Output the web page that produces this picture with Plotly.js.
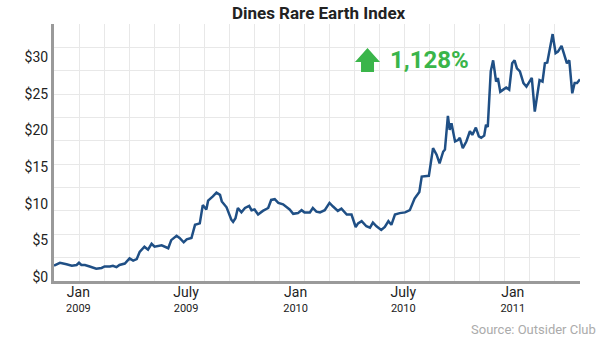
<!DOCTYPE html>
<html>
<head>
<meta charset="utf-8">
<script src="https://cdn.plot.ly/plotly-3.0.1.min.js"></script>
<style>html,body{margin:0;padding:0;background:#fff;}#chart{width:600px;height:338px;}</style>
</head>
<body>
<div id="chart"></div>
<script>
const dates = [
  '2008-11-21','2008-12-01','2008-12-12','2008-12-21','2008-12-29','2009-01-02','2009-01-06','2009-01-12','2009-01-20','2009-01-31',
  '2009-02-09','2009-02-14','2009-02-23','2009-02-28','2009-03-06','2009-03-11','2009-03-20','2009-03-28','2009-04-03','2009-04-09',
  '2009-04-14','2009-04-22','2009-04-28','2009-05-04','2009-05-09','2009-05-21','2009-06-01','2009-06-06','2009-06-15','2009-06-20',
  '2009-06-27','2009-07-02','2009-07-10','2009-07-16','2009-07-24','2009-07-29','2009-08-04','2009-08-07','2009-08-15','2009-08-21',
  '2009-08-27','2009-08-30','2009-09-07','2009-09-15','2009-09-18','2009-09-22','2009-09-26','2009-10-02','2009-10-08','2009-10-15',
  '2009-10-19','2009-10-24','2009-10-30','2009-11-07','2009-11-16','2009-11-21','2009-11-27','2009-12-03','2009-12-11','2009-12-22',
  '2009-12-28','2010-01-05','2010-01-11','2010-01-16','2010-01-25','2010-01-30','2010-02-05','2010-02-11','2010-02-19','2010-02-27',
  '2010-03-05','2010-03-13','2010-03-19','2010-03-28','2010-04-05','2010-04-12','2010-04-16','2010-04-22','2010-04-30','2010-05-06',
  '2010-05-11','2010-05-17','2010-05-25','2010-05-31','2010-06-06','2010-06-11','2010-06-17','2010-06-25','2010-07-04','2010-07-12',
  '2010-07-20','2010-07-28','2010-08-01','2010-08-06','2010-08-13','2010-08-20','2010-08-26','2010-08-31','2010-09-06','2010-09-09',
  '2010-09-14','2010-09-17','2010-09-20','2010-09-26','2010-10-01','2010-10-04','2010-10-09','2010-10-15','2010-10-21','2010-10-25',
  '2010-10-31','2010-11-05','2010-11-09','2010-11-14','2010-11-17','2010-11-20','2010-11-25','2010-11-29','2010-12-04','2010-12-07',
  '2010-12-11','2010-12-16','2010-12-21','2010-12-26','2010-12-31','2011-01-04','2011-01-08','2011-01-13','2011-01-19','2011-01-24',
  '2011-01-28','2011-02-02','2011-02-07','2011-02-11','2011-02-15','2011-02-20','2011-02-24','2011-02-28','2011-03-04','2011-03-09',
  '2011-03-14','2011-03-18','2011-03-24','2011-03-29','2011-04-02','2011-04-06','2011-04-11','2011-04-15','2011-04-19','2011-04-24'
];
const prices = [
  1.5,1.9,1.7,1.5,1.6,1.9,1.6,1.6,1.4,1.1,
  1.2,1.4,1.4,1.5,1.3,1.6,1.8,2.5,2.2,2.4,
  3.4,4.1,3.7,4.5,4.1,4.3,3.9,5.0,5.6,5.3,
  4.7,5.1,5.3,7.1,7.3,9.8,9.2,10.4,11.0,11.5,
  11.2,10.3,9.5,7.8,7.5,8.0,9.4,8.8,9.4,9.7,
  9.1,9.2,8.5,9.0,9.4,10.5,10.6,10.1,9.9,9.2,
  8.6,8.7,9.1,8.8,8.8,9.4,8.9,8.8,9.1,10.1,
  9.6,9.0,9.3,8.5,8.5,6.8,7.3,7.6,6.9,6.7,
  7.4,6.9,6.4,6.8,7.6,7.1,8.5,8.7,8.8,9.1,
  10.7,11.6,13.7,13.7,13.8,17.6,16.7,15.5,17.1,17.4,
  22.0,20.1,21.0,18.5,18.7,19.0,17.6,18.5,19.9,19.4,
  20.4,19.2,19.0,19.3,20.8,20.5,28.1,29.6,26.7,27.2,
  25.3,25.6,25.9,25.6,29.2,29.6,28.5,28.1,26.5,26.0,
  26.5,27.2,22.6,24.7,26.9,26.7,29.2,29.3,31.3,33.2,
  30.6,30.8,31.6,30.4,29.2,29.6,25.1,26.5,26.5,27.0
];
const xTickVals = ['2009-01-01','2009-07-01','2010-01-01','2010-07-01','2011-01-01'];
const xTickMonths = ['Jan','July','Jan','July','Jan'];
const xTickYears = ['2009','2009','2010','2010','2011'];
const yTickVals = [0,5,10,15,20,25,30];
const gainLabel = '1,128%';
const chartTitle = 'Dines Rare Earth Index';
const sourceLabel = 'Source: Outsider Club';

const FONT = 'Roboto, "Noto Sans", sans-serif';
const xTickText = xTickMonths.map((m, i) => '<span style="font-size:14px">' + m + '</span><br><span style="font-size:11px">' + xTickYears[i] + '</span>');
const yTickText = yTickVals.map(v => '$' + v);

const traces = [
  {x: [0], y: [0], xaxis: 'x2', yaxis: 'y2', mode: 'markers', marker: {opacity: 0}, hoverinfo: 'skip', showlegend: false},
  {x: dates, y: prices, type: 'scatter', mode: 'lines', line: {color: '#1f4f85', width: 2.5}, showlegend: false, hoverinfo: 'skip'}
];

const layout = {
  width: 600, height: 338,
  margin: {l: 54, r: 20, t: 24, b: 57},
  paper_bgcolor: '#ffffff', plot_bgcolor: '#ffffff',
  font: {family: FONT, color: '#222222'},
  title: {text: '<b>' + chartTitle + '</b>', x: 0.503, xanchor: 'center', xref: 'paper', y: 0.962, yanchor: 'middle', yref: 'container', font: {size: 17, family: FONT, color: '#222222'}},
  xaxis: {
    type: 'date', range: ['2008-11-21', '2011-04-24'],
    tickvals: xTickVals, ticktext: xTickText, tickangle: 0,
    showgrid: false, zeroline: false, showline: true, linecolor: '#9a9a9a', linewidth: 3,
    ticks: '', tickfont: {size: 11, family: FONT, color: '#222222'}
  },
  yaxis: {
    range: [-0.59, 34.58], tickvals: yTickVals, ticktext: yTickText,
    showgrid: false, zeroline: false, showline: true, linecolor: '#9a9a9a', linewidth: 3,
    ticks: '', tickfont: {size: 14, family: FONT, color: '#222222'}
  },
  xaxis2: {overlaying: 'x', range: [0, 21], dtick: 1, tick0: 0, showgrid: true, gridcolor: '#e8e8e8', gridwidth: 1, showticklabels: false, zeroline: false, showline: false, ticks: ''},
  yaxis2: {overlaying: 'y', range: [0, 11], dtick: 1, tick0: 0, showgrid: true, gridcolor: '#e8e8e8', gridwidth: 1, showticklabels: false, zeroline: false, showline: false, ticks: ''},
  shapes: [
    {type: 'path', xref: 'paper', yref: 'paper',
     path: 'M 0.5722 0.8521 L 0.596 0.9066 L 0.6198 0.8521 L 0.6084 0.8521 L 0.6084 0.8132 L 0.5837 0.8132 L 0.5837 0.8521 Z',
     fillcolor: '#3ab54a', line: {width: 0}}
  ],
  annotations: [
    {text: '<b>' + gainLabel + '</b>', xref: 'paper', yref: 'paper', x: 0.713, y: 0.86, xanchor: 'center', yanchor: 'middle', showarrow: false, font: {size: 24, family: FONT, color: '#3ab54a'}},
    {text: sourceLabel, xref: 'paper', yref: 'paper', x: 1.034, y: -0.187, xanchor: 'right', yanchor: 'middle', showarrow: false, font: {size: 13, family: FONT, color: '#ababab'}}
  ]
};

Plotly.newPlot('chart', traces, layout, {staticPlot: true, displayModeBar: false});
</script>
</body>
</html>
